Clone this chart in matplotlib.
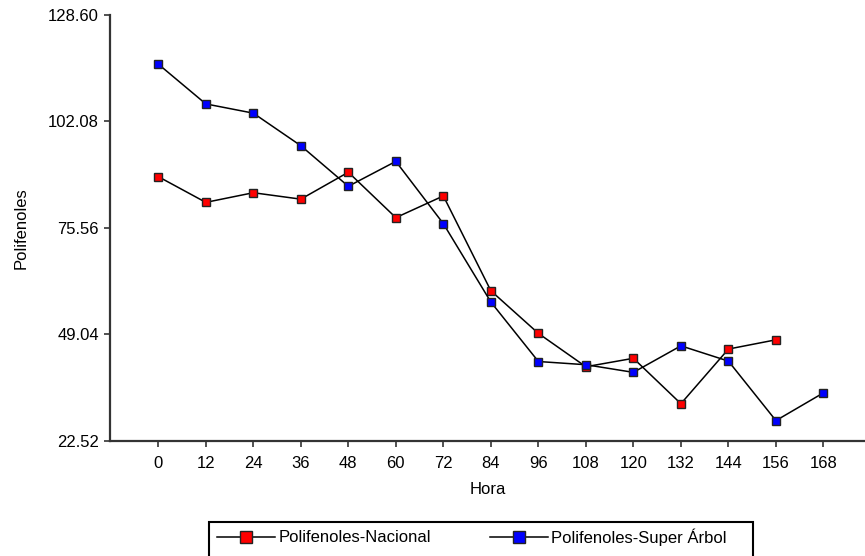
import matplotlib.pyplot as plt
from matplotlib.patches import Rectangle

plt.rcParams['font.family'] = ['Liberation Sans', 'DejaVu Sans']

hora = [0, 12, 24, 36, 48, 60, 72, 84, 96, 108, 120, 132, 144, 156, 168]
nacional = [88.3, 81.9, 84.3, 82.7, 89.4, 78.1, 83.5, 59.9, 49.3, 41.0, 43.1, 31.8, 45.4, 47.7]
super_arbol = [116.3, 106.4, 104.1, 96.0, 85.9, 92.1, 76.6, 57.1, 42.3, 41.5, 39.6, 46.2, 42.4, 27.6, 34.5]
y_ticks = [22.52, 49.04, 75.56, 102.08, 128.60]

W, H = 865, 556
fig = plt.figure(figsize=(W / 100, H / 100), dpi=100)
ax = fig.add_axes([110 / W, 1 - 441 / H, 1 - 110 / W, (441 - 14.7) / H])

l1, = ax.plot(hora[:len(nacional)], nacional, color='black', linewidth=1.1, marker='s',
              markersize=6.2, markerfacecolor='#ff0000', markeredgecolor='#222222', markeredgewidth=1.0)
l2, = ax.plot(hora, super_arbol, color='black', linewidth=1.1, marker='s',
              markersize=6.2, markerfacecolor='#0000ff', markeredgecolor='#222222', markeredgewidth=1.0)

ax.set_xlim(-12.2, 178.5)
ax.set_ylim(y_ticks[0], y_ticks[-1])
ax.set_xticks(hora)
ax.set_yticks(y_ticks)
ax.set_yticklabels(['%.2f' % v for v in y_ticks])
ax.tick_params(labelsize=12, direction='out', length=4.5, width=1.2, color='#333333', pad=3.5)
ax.tick_params(axis='x', pad=6.5)
for s in ['top', 'right']:
    ax.spines[s].set_visible(False)
for s in ['left', 'bottom']:
    ax.spines[s].set_linewidth(1.6)
    ax.spines[s].set_color('#333333')

ax.set_xlabel('Hora', fontsize=12, labelpad=8)
ax.set_ylabel('Polifenoles', fontsize=12)
ax.yaxis.set_label_coords((29 - 110) / 755, 0.5)

# legend box (its lower edge runs off the bottom of the picture)
fig.patches.append(Rectangle((209 / W, -0.05), (753 - 209) / W, 0.05 + 1 - 522 / H,
                             transform=fig.transFigure, facecolor='none',
                             edgecolor='black', linewidth=1.5))
leg = fig.legend([l1, l2], ['Polifenoles-Nacional', 'Polifenoles-Super Árbol'],
                 loc='upper left', bbox_to_anchor=(217 / W, 1 - 528 / H),
                 ncol=2, fontsize=12, frameon=False, markerscale=1.35,
                 handlelength=3.5, handletextpad=0.2, columnspacing=3.5,
                 borderpad=0, borderaxespad=0)

fig.savefig('out.png', dpi=100)
